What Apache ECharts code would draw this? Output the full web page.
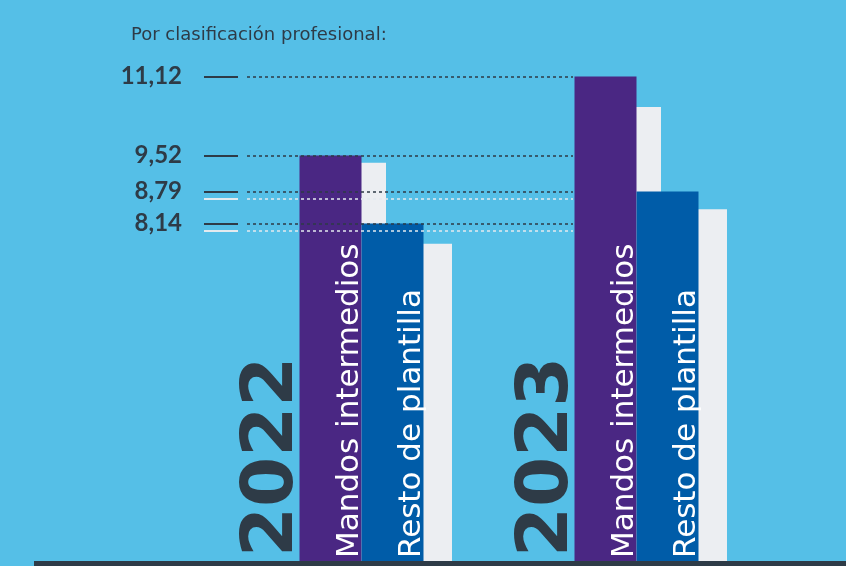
<!DOCTYPE html>
<html>
<head>
<meta charset="utf-8">
<script src="https://cdn.jsdelivr.net/npm/echarts@6/dist/echarts.min.js"></script>
<style>
  html, body { margin: 0; padding: 0; background: #55bfe7; }
  #chart { width: 846px; height: 566px; }
</style>
</head>
<body>
<div id="chart"></div>
<script>
// datos
const categories = ['2022', '2023'];
const mandos = [9.52, 11.12];       // Mandos intermedios
const resto = [8.14, 8.79];         // Resto de plantilla
const mandosRef = [9.37, 10.50];    // barra clara detrás de mandos
const restoRef = [7.73, 8.43];      // barra clara detrás de resto
const guideValues = [11.12, 9.52, 8.79, 8.14];
const lightGuideValues = [8.65, 8.00];

// colores
const bg = '#55bfe7';
const purple = '#4a2783';
const blue = '#005ca8';
const light = '#eceef2';
const dark = '#2e3b47';

const fmt = v => v.toFixed(2).replace('.', ',');

let myChart = echarts.init(document.getElementById('chart'));

// lineas guía: tramo corto sólido + punteado hasta las barras de 2023
let guideLines = [];
guideValues.forEach(v => {
  guideLines.push([
    { xAxis: categories[0], yAxis: v, x: 204, lineStyle: { type: 'solid', width: 2, color: dark } },
    { xAxis: categories[0], yAxis: v, x: 238 }
  ]);
  guideLines.push([
    {
      xAxis: categories[0], yAxis: v, x: 247,
      label: {
        show: true, position: 'start', distance: 65, formatter: fmt(v),
        color: dark, fontSize: 24, fontWeight: 'bold', fontFamily: 'Lato'
      }
    },
    { xAxis: categories[0], yAxis: v, x: 573 }
  ]);
});
lightGuideValues.forEach(v => {
  guideLines.push([
    { xAxis: categories[0], yAxis: v, x: 204, lineStyle: { type: 'solid', width: 2, color: '#e3eaef' } },
    { xAxis: categories[0], yAxis: v, x: 238 }
  ]);
  guideLines.push([
    { xAxis: categories[0], yAxis: v, x: 247, lineStyle: { color: '#e3eaef' } },
    { xAxis: categories[0], yAxis: v, x: 573 }
  ]);
});

const barLabel = {
  show: true,
  position: 'insideBottom',
  rotate: 90,
  align: 'left',
  verticalAlign: 'middle',
  distance: 3,
  offset: [0, 19],
  formatter: '{a}',
  color: '#ffffff',
  fontSize: 31,
  fontFamily: 'DejaVu Sans'
};

let option = {
  backgroundColor: bg,
  animation: false,
  title: {
    text: 'Por clasificación profesional:',
    left: 126,
    top: 21,
    textStyle: { color: dark, fontSize: 18, fontWeight: 'normal', fontFamily: 'DejaVu Sans' }
  },
  grid: [
    { left: 224, right: 72, top: 33, bottom: 5 },
    { left: 250.5, right: 45.5, top: 33, bottom: 5 },
    { left: 135.5, right: 160.5, top: 33, bottom: 5 }
  ],
  xAxis: [
    { type: 'category', data: categories, gridIndex: 0, show: false },
    { type: 'category', data: categories, gridIndex: 1, show: false },
    {
      type: 'category', data: categories, gridIndex: 2,
      axisLine: { show: false }, axisTick: { show: false },
      axisLabel: {
        inside: true, rotate: 90, margin: 4, interval: 0,
        color: dark, fontSize: 72, fontWeight: 'bold', fontFamily: 'DejaVu Sans'
      }
    }
  ],
  yAxis: [0, 1, 2].map(i => ({ type: 'value', gridIndex: i, min: 1.3, max: 12, show: false })),
  graphic: [
    { type: 'rect', shape: { x: 34, y: 561, width: 812, height: 5 }, style: { fill: dark }, z: 10 }
  ],
  series: [
    {
      name: 'ref mandos', type: 'bar', xAxisIndex: 1, yAxisIndex: 1,
      data: mandosRef, barWidth: 62, barGap: '6.45%', z: 1, silent: true,
      itemStyle: { color: light }
    },
    {
      name: 'ref resto', type: 'bar', xAxisIndex: 1, yAxisIndex: 1,
      data: restoRef, barWidth: 62, barGap: '6.45%', z: 1, silent: true,
      itemStyle: { color: light }
    },
    {
      name: 'Mandos intermedios', type: 'bar', xAxisIndex: 0, yAxisIndex: 0,
      data: mandos, barWidth: 62, barGap: '0%', z: 3,
      itemStyle: { color: purple },
      label: barLabel,
      markLine: {
        silent: true,
        symbol: ['none', 'none'],
        label: { show: false },
        lineStyle: { color: dark, type: [3, 3], width: 1.5 },
        data: guideLines
      }
    },
    {
      name: 'Resto de plantilla', type: 'bar', xAxisIndex: 0, yAxisIndex: 0,
      data: resto, barWidth: 62, barGap: '0%', z: 3,
      itemStyle: { color: blue },
      label: barLabel
    }
  ]
};

myChart.setOption(option);
window.addEventListener('resize', function () {
  myChart.resize();
});
</script>
</body>
</html>
